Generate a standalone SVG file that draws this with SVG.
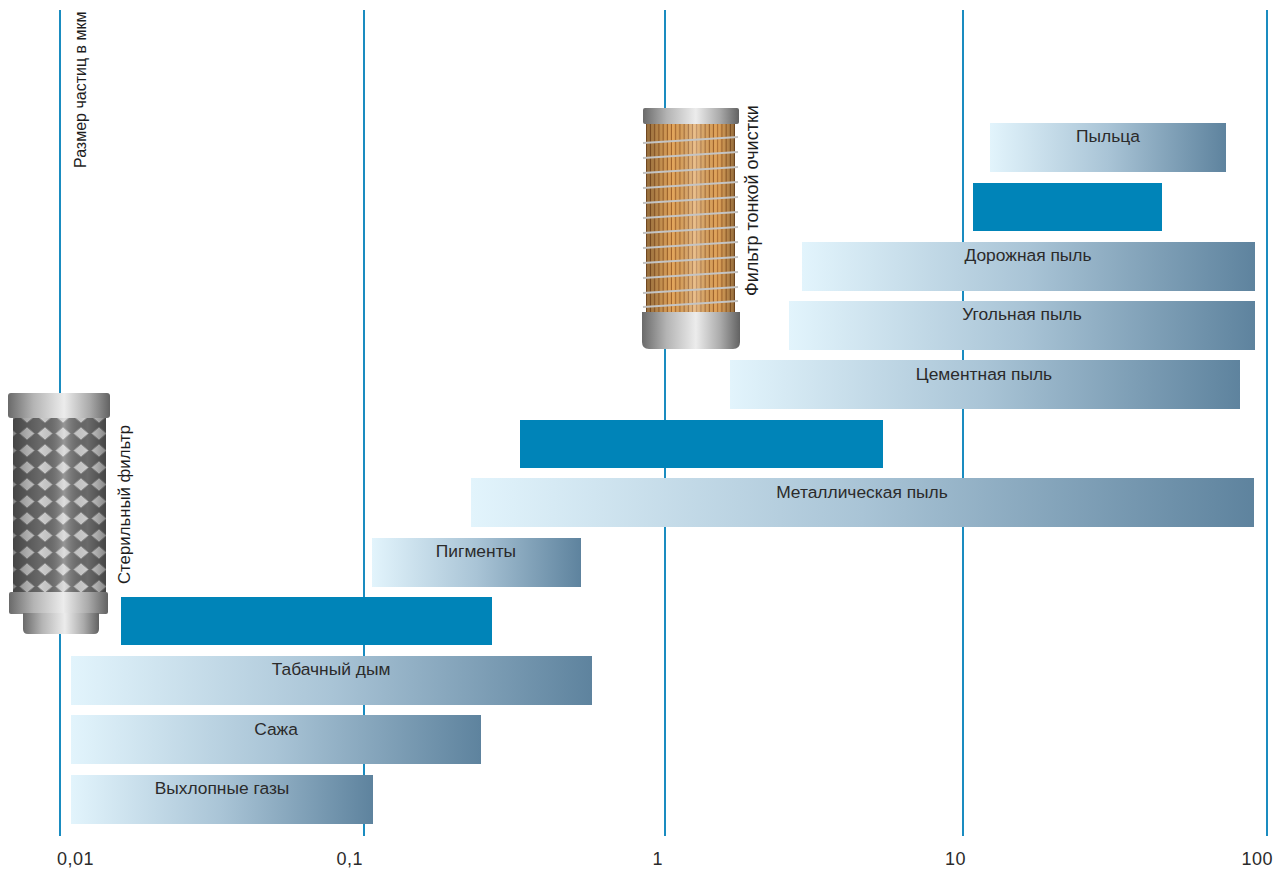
<svg xmlns="http://www.w3.org/2000/svg" width="1281" height="870" viewBox="0 0 1281 870">
<style>
.grid{stroke:#1a8cc0;stroke-width:2;fill:none}
.bar{fill:url(#barGrad)}
.solid{fill:#0084b8}
.lbl{font-family:"Liberation Sans","DejaVu Sans",sans-serif;font-size:17.4px;fill:#2b2b2b;text-anchor:middle}
.ax{font-family:"Liberation Sans","DejaVu Sans",sans-serif;font-size:18px;fill:#2b2b2b;letter-spacing:0.5px}
.rot{font-family:"Liberation Sans","DejaVu Sans",sans-serif;font-size:16px;fill:#1e1e1e}
.wire{stroke:#c4c4c4;stroke-width:2;fill:none}
</style>
<defs>
<linearGradient id="barGrad" x1="0" y1="0" x2="1" y2="0">
<stop offset="0" stop-color="#e2f4fc"/>
<stop offset="0.5" stop-color="#a9c4d6"/>
<stop offset="1" stop-color="#5e839e"/>
</linearGradient>
<linearGradient id="metal" x1="0" y1="0" x2="1" y2="0">
<stop offset="0" stop-color="#6a6a6a"/>
<stop offset="0.25" stop-color="#b4b4b4"/>
<stop offset="0.55" stop-color="#ececec"/>
<stop offset="0.8" stop-color="#aaaaaa"/>
<stop offset="1" stop-color="#626262"/>
</linearGradient>
<linearGradient id="shade" x1="0" y1="0" x2="1" y2="0">
<stop offset="0" stop-color="#000" stop-opacity="0.35"/>
<stop offset="0.3" stop-color="#000" stop-opacity="0"/>
<stop offset="0.55" stop-color="#fff" stop-opacity="0.3"/>
<stop offset="0.8" stop-color="#000" stop-opacity="0"/>
<stop offset="1" stop-color="#000" stop-opacity="0.35"/>
</linearGradient>
<pattern id="pleats" patternUnits="userSpaceOnUse" width="4.2" height="10">
<rect width="4.2" height="10" fill="#e3a65c"/>
<rect x="3.2" width="1" height="10" fill="#a0622a"/>
</pattern>
<pattern id="mesh" patternUnits="userSpaceOnUse" width="18" height="17">
<rect width="18" height="17" fill="#6a6a6a"/>
<polygon points="9,2 16.5,8.5 9,15 1.5,8.5" fill="#cfcfcf" stroke="#8a8a8a" stroke-width="1"/>
</pattern>
</defs>

<g id="gridlines">
<line class="grid" x1="60" y1="10" x2="60" y2="836"/>
<line class="grid" x1="364" y1="10" x2="364" y2="836"/>
<line class="grid" x1="665" y1="10" x2="665" y2="836"/>
<line class="grid" x1="963" y1="10" x2="963" y2="836"/>
<line class="grid" x1="1267" y1="10" x2="1267" y2="836"/>
</g>

<g id="axis-labels">
<text class="ax" x="57" y="865">0,01</text>
<text class="ax" x="363" y="865" text-anchor="end">0,1</text>
<text class="ax" x="663" y="865" text-anchor="end">1</text>
<text class="ax" x="966" y="865" text-anchor="end">10</text>
<text class="ax" x="1273" y="865" text-anchor="end">100</text>
<text class="rot" transform="translate(86,168) rotate(-90)">Размер частиц в мкм</text>
</g>

<g id="fine-filter">
<rect x="646" y="122" width="89" height="192" fill="url(#pleats)"/>
<rect x="646" y="122" width="89" height="192" fill="url(#shade)"/>
<g class="wire">
<path d="M643,143 L738,137"/>
<path d="M643,158 L738,152"/>
<path d="M643,173 L738,167"/>
<path d="M643,188 L738,182"/>
<path d="M643,203 L738,197"/>
<path d="M643,218 L738,212"/>
<path d="M643,233 L738,227"/>
<path d="M643,248 L738,242"/>
<path d="M643,263 L738,257"/>
<path d="M643,278 L738,272"/>
<path d="M643,293 L738,287"/>
<path d="M643,307 L738,301"/>
</g>
<rect x="643" y="108" width="96" height="16" rx="2" fill="url(#metal)"/>
<path d="M642,312 L740,312 L740,342 Q740,349 733,349 L649,349 Q642,349 642,342 Z" fill="url(#metal)"/>
<text class="rot" style="font-size:18px" transform="translate(758,296) rotate(-90)">Фильтр тонкой очистки</text>
</g>

<g id="sterile-filter">
<rect x="13" y="416" width="93" height="178" fill="url(#mesh)"/>
<rect x="13" y="416" width="93" height="178" fill="url(#shade)"/>
<rect x="8" y="393" width="102" height="25" rx="3" fill="url(#metal)"/>
<rect x="9" y="592" width="99" height="22" rx="2" fill="url(#metal)"/>
<path d="M23,613 L99,613 L99,629 Q99,634 94,634 L28,634 Q23,634 23,629 Z" fill="url(#metal)"/>
<text class="rot" style="font-size:16.8px" transform="translate(130,584) rotate(-90)">Стерильный фильтр</text>
</g>

<g id="bars">
<g id="pollen"><rect class="bar" x="990" y="123" width="236" height="49"/><text class="lbl" x="1108" y="142">Пыльца</text></g>
<g id="solid1"><rect class="solid" x="973" y="183" width="189" height="48"/></g>
<g id="road-dust"><rect class="bar" x="802" y="242" width="453" height="49"/><text class="lbl" x="1028" y="261">Дорожная пыль</text></g>
<g id="coal-dust"><rect class="bar" x="789" y="301" width="466" height="49"/><text class="lbl" x="1022" y="320">Угольная пыль</text></g>
<g id="cement-dust"><rect class="bar" x="730" y="360" width="510" height="49"/><text class="lbl" x="984" y="380">Цементная пыль</text></g>
<g id="solid2"><rect class="solid" x="520" y="420" width="363" height="48"/></g>
<g id="metal-dust"><rect class="bar" x="471" y="478" width="783" height="49"/><text class="lbl" x="862" y="498">Металлическая пыль</text></g>
<g id="pigments"><rect class="bar" x="372" y="538" width="209" height="49"/><text class="lbl" x="476" y="557">Пигменты</text></g>
<g id="solid3"><rect class="solid" x="121" y="597" width="371" height="48"/></g>
<g id="tobacco"><rect class="bar" x="71" y="656" width="521" height="49"/><text class="lbl" x="331" y="675">Табачный дым</text></g>
<g id="soot"><rect class="bar" x="71" y="715" width="410" height="49"/><text class="lbl" x="276" y="735">Сажа</text></g>
<g id="exhaust"><rect class="bar" x="71" y="775" width="302" height="49"/><text class="lbl" x="222" y="794">Выхлопные газы</text></g>
</g>
</svg>
